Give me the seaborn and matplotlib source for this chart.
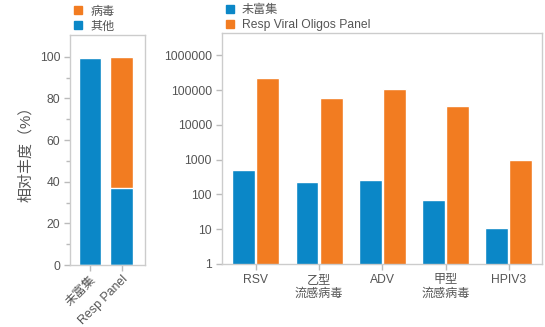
import matplotlib
matplotlib.use("Agg")
import matplotlib.pyplot as plt
from matplotlib.patches import Patch
from matplotlib.ticker import FixedLocator, NullLocator
import pandas as pd
import seaborn as sns

# Relative abundance (%) per sample
samples = ["未富集", "Resp Panel"]
other_pct = [99.5, 37.0]
virus_pct = [0.5, 63.0]

# Read counts per virus (log scale)
viruses = ["RSV", "乙型\n流感病毒", "ADV", "甲型\n流感病毒", "HPIV3"]
unenriched = [500, 230, 260, 69, 11]
panel = [220000, 59000, 107000, 35000, 950]
groups = ["未富集", "Resp Viral Oligos Panel"]

BLUE = "#0B87C7"
ORANGE = "#F27C21"
TEXT = "#555555"
EDGE = "#CCCCCC"

sns.set_theme(style="white")
plt.rcParams["font.family"] = ["Liberation Sans", "Noto Sans CJK SC", "DejaVu Sans"]
plt.rcParams["text.color"] = TEXT
plt.rcParams["axes.labelcolor"] = TEXT
plt.rcParams["xtick.color"] = TEXT
plt.rcParams["ytick.color"] = TEXT

W, H = 545, 327
fig = plt.figure(figsize=(W / 100, H / 100), dpi=100)


def px_axes(x0, y0, x1, y1):
    return fig.add_axes([x0 / W, 1 - y1 / H, (x1 - x0) / W, (y1 - y0) / H])


def style_axes(ax):
    for s in ax.spines.values():
        s.set_color(EDGE)
        s.set_linewidth(1.0)
    ax.tick_params(axis="both", which="both", direction="out", color="#BBBBBB",
                   labelsize=8.7, labelcolor=TEXT, width=1.0,
                   bottom=True, left=True, top=False, right=False)
    ax.tick_params(which="major", length=4, pad=3)
    ax.tick_params(which="minor", length=3)


# ---- left: stacked relative abundance ----
axL = px_axes(70, 35, 145, 265)
pct = pd.DataFrame({"sample": samples, "other": other_pct, "virus": virus_pct})
pct["total"] = pct["other"] + pct["virus"]
sns.barplot(data=pct, x="sample", y="total", color=ORANGE, width=0.72,
            saturation=1, ax=axL)
sns.barplot(data=pct, x="sample", y="other", color=BLUE, width=0.72,
            saturation=1, ax=axL)
axL.set_xlim(-0.63, 1.74)
axL.set_ylim(0, 110.5)
axL.yaxis.set_major_locator(FixedLocator([0, 20, 40, 60, 80, 100]))
axL.yaxis.set_minor_locator(FixedLocator([10, 30, 50, 70, 90]))
axL.set_xlabel("")
axL.set_ylabel("相对丰度（%）", fontsize=10.8, labelpad=5)
style_axes(axL)
axL.set_xticks(range(len(samples)))
axL.set_xticklabels(samples, rotation=45, ha="right", rotation_mode="anchor",
                    fontsize=8.9)
axL.tick_params(axis="x", pad=2)
axL.legend(handles=[Patch(color=ORANGE, label="病毒"), Patch(color=BLUE, label="其他")],
           loc="lower left", bbox_to_anchor=(0.02, 1.0), frameon=False,
           fontsize=8.7, handlelength=0.65, handleheight=0.65, handletextpad=0.7,
           labelspacing=0.25, borderaxespad=0.1, borderpad=0.1)

# ---- right: read counts per virus ----
axR = px_axes(221.7, 33.3, 541.7, 264)
counts = pd.DataFrame({
    "virus": viruses * 2,
    "reads": unenriched + panel,
    "group": [groups[0]] * len(viruses) + [groups[1]] * len(viruses),
})
sns.barplot(data=counts, x="virus", y="reads", hue="group", order=viruses,
            hue_order=groups, palette=[BLUE, ORANGE], width=0.76, gap=0.05,
            saturation=1, ax=axR)
axR.set_yscale("log")
axR.set_ylim(1, 10 ** 6.63)
axR.set_xlim(-0.54, 4.52)
ticks = [1, 10, 100, 1000, 10000, 100000, 1000000]
axR.yaxis.set_major_locator(FixedLocator(ticks))
axR.yaxis.set_minor_locator(NullLocator())
axR.set_yticklabels([str(t) for t in ticks])
axR.set_xlabel("")
axR.set_ylabel("")
style_axes(axR)
axR.legend(handles=[Patch(color=BLUE, label=groups[0]), Patch(color=ORANGE, label=groups[1])],
           loc="lower left", bbox_to_anchor=(0.005, 1.0), frameon=False,
           fontsize=8.7, handlelength=0.65, handleheight=0.65, handletextpad=0.7,
           labelspacing=0.25, borderaxespad=0.1, borderpad=0.1)

fig.savefig("out.png", dpi=100)
